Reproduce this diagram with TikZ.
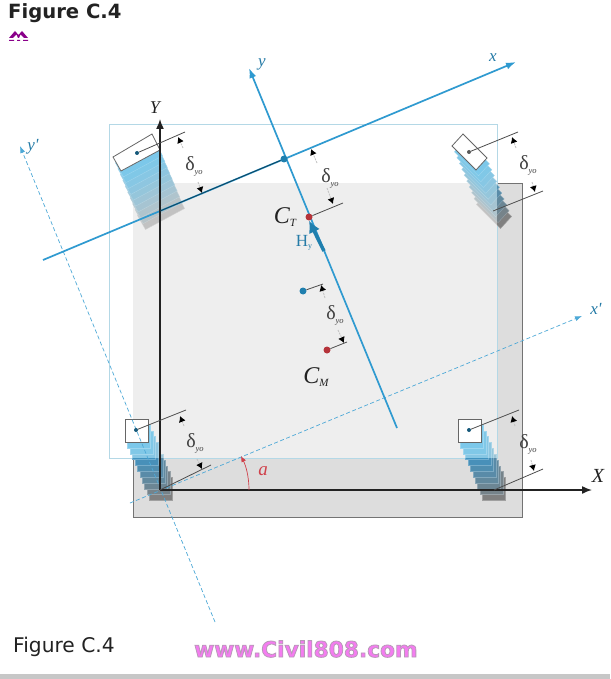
\documentclass[tikz,border=0pt]{standalone}
\usepackage{fontspec}
\setmainfont{Liberation Serif}
\newfontfamily\uifont{DejaVu Sans}
\usetikzlibrary{arrows.meta,calc}
\definecolor{axisblue}{HTML}{2F9AD0}
\definecolor{framebl}{HTML}{B4D8E6}
\definecolor{outergray}{HTML}{DDDDDD}
\definecolor{innergray}{HTML}{EEEEEE}
\definecolor{layerA}{HTML}{7CC8EA}
\definecolor{layerB}{HTML}{C2C2C2}
\definecolor{layerC}{HTML}{3596CC}
\definecolor{layerD}{HTML}{808080}
\definecolor{dimgray}{HTML}{C4C4C4}
\definecolor{redpt}{HTML}{B5333A}
\definecolor{bluept}{HTML}{1F7FAE}
\definecolor{anglered}{HTML}{D0404A}
\definecolor{ink}{HTML}{222222}
\definecolor{pinktxt}{HTML}{F47CF0}
\newcommand{\slabstack}[6]{%
  \foreach \i in {10,...,1}{%
    \pgfmathsetmacro{\p}{100*((\i-1)/9)^1.25}%
    \colorlet{layercur}{#6!\p!#5}%
    \filldraw[fill=layercur,draw=layercur!75!white,line width=.4pt,shift={({\i*2.45},{\i*5.85})}]
      (#1) -- (#2) -- (#3) -- (#4) -- cycle;
  }%
}
\newcommand{\dyo}{\fontsize{20}{20}\selectfont δ\raisebox{-4pt}{\fontsize{8.5}{8.5}\selectfont\itshape yo}}
\tikzset{
  outerplate/.style={fill=outergray,draw=black!55,line width=.8pt},
  innerplate/.style={fill=innergray},
  framerect/.style={draw=framebl,line width=.9pt},
  whiteslab/.style={fill=white,draw=black!60,line width=.8pt},
  mainaxis/.style={draw=ink,line width=1.5pt,-{Latex[length=10pt,width=8pt]}},
  blueaxis/.style={draw=axisblue,line width=1.7pt,-{Latex[length=10pt,width=7pt]}},
  dashaxis/.style={draw=axisblue!85,line width=.7pt,dash pattern=on 4pt off 2.5pt,-{Latex[length=7pt,width=5pt]}},
  leader/.style={draw=black!70,line width=.8pt},
  dimtip/.style={draw=dimgray,line width=.9pt,dash pattern=on 2pt off 1pt,-{Latex[length=6pt,width=7pt,black]}},
  pt/.style={circle,inner sep=0pt,minimum size=#1},
  lab/.style={inner sep=0pt,text=ink},
  dimlab/.style={inner sep=0pt,text=black!75},
}
\begin{document}
\begin{tikzpicture}[x=1pt,y=-1pt]
\useasboundingbox (0,0) rectangle (610,679);
\fill[white] (0,0) rectangle (610,679);
\fill[black!22] (0,674) rectangle (610,679);
% plates
\path[outerplate] (133,183) rectangle (522,517);
\path[innerplate] (133,183) rectangle (497,458);
\draw[framerect] (109,124) rectangle (497,458);
% slab stacks
\slabstack{121,171}{160,150}{152,134}{113,157}{layerA}{layerB}
\draw[whiteslab] (113,157) -- (152,134) -- (160,150) -- (121,171) -- cycle;
\slabstack{452,146}{463,134}{487,158}{476,170}{layerA}{layerB}
\begin{scope}
  \clip (497,124) rectangle (530,240);
  \slabstack{452,146}{463,134}{487,158}{476,170}{layerC}{layerD}
\end{scope}
\draw[whiteslab] (452,146) -- (463,134) -- (487,158) -- (476,170) -- cycle;
\slabstack{125,419}{148,419}{148,442}{125,442}{layerA}{layerB}
\begin{scope}
  \clip (120,458) rectangle (180,510);
  \slabstack{125,419}{148,419}{148,442}{125,442}{layerC}{layerD}
\end{scope}
\draw[whiteslab] (125,419) rectangle (148,442);
\slabstack{458,419}{481,419}{481,442}{458,442}{layerA}{layerB}
\begin{scope}
  \clip (450,458) rectangle (515,510);
  \slabstack{458,419}{481,419}{481,442}{458,442}{layerC}{layerD}
\end{scope}
\draw[whiteslab] (458,419) rectangle (481,442);
% named points
\coordinate (O) at (160,490);
\coordinate (Yend) at (160,119);
\coordinate (Xend) at (592,490);
\coordinate (xs) at (43,260);
\coordinate (xe) at (516,62);
\coordinate (ys) at (397,428);
\coordinate (ye) at (249,68);
\coordinate (dys) at (215,622);
\coordinate (dye) at (20,146);
\coordinate (dxs) at (130,503);
\coordinate (dxe) at (582,316);
\coordinate (tlBase) at (160,211);
\coordinate (brBase) at (494,490);
\coordinate (trBase) at (493,211);
% axes
\draw[dashaxis] (dys) -- (dye);
\draw[dashaxis] (dxs) -- (dxe);
\draw[blueaxis] (xs) -- (xe);
\draw[blueaxis] (ys) -- (ye);
\draw[mainaxis] (O) -- (Xend);
\draw[mainaxis] (O) -- (Yend);
% leader endpoints
\node[pt=4pt,fill=bluept!70!black] (tlDot) at (137,153) {};
\node[pt=4pt,fill=black!65] (trDot) at (469,152) {};
\node[pt=4pt,fill=bluept!70!black] (blDot) at (136,430) {};
\node[pt=4pt,fill=bluept!70!black] (brDot) at (469,430) {};
\node[pt=7pt,fill=bluept] (cDot) at (284,159) {};
\node[pt=7pt,fill=redpt] (ct) at (309,217) {};
\node[pt=7pt,fill=bluept] (cs) at (303,291) {};
\node[pt=7pt,fill=redpt] (cm) at (327,350) {};
\coordinate (tlEnd) at (185,132);
\coordinate (trEnd) at (518,132);
\coordinate (trEnd2) at (543,191);
\coordinate (blEnd) at (186,410);
\coordinate (blEnd2) at (211,465);
\coordinate (brEnd) at (519,410);
\coordinate (brEnd2) at (543,469);
\coordinate (ctEnd) at (343,203);
\coordinate (csEnd) at (323,284);
\coordinate (cmEnd) at (347,342);
\draw[leader] (tlDot) -- (tlEnd);
\draw[leader] (trDot) -- (trEnd);
\draw[leader] (trBase) -- (trEnd2);
\draw[leader] (blDot) -- (blEnd);
\draw[leader] (O) -- (blEnd2);
\draw[leader] (brDot) -- (brEnd);
\draw[leader] (brBase) -- (brEnd2);
\draw[leader] (ct) -- (ctEnd);
\draw[leader] (cs) -- (csEnd);
\draw[leader] (cm) -- (cmEnd);
\draw[draw=bluept!55!black,line width=.9pt] (tlBase) -- (cDot);
% dimension ticks
\foreach \a/\b in {183/148,198/182,516/148,532/182,184/426,197/459,515/426,531/460,317/163,327/188,325/298,338/330}{\coordinate (d\a) at (\a,\b);}
\coordinate (t1) at (178,137); \coordinate (t2) at (202,193);
\coordinate (t3) at (512,137); \coordinate (t4) at (535,192);
\coordinate (t5) at (180,416); \coordinate (t6) at (202,469);
\coordinate (t7) at (512,416); \coordinate (t8) at (534,471);
\coordinate (t9) at (311,149); \coordinate (t10) at (333,204);
\coordinate (t11) at (321,285); \coordinate (t12) at (344,343);
\draw[dimtip] (d183) -- (t1);
\draw[dimtip] (d198) -- (t2);
\draw[dimtip] (d516) -- (t3);
\draw[dimtip] (d532) -- (t4);
\draw[dimtip] (d184) -- (t5);
\draw[dimtip] (d197) -- (t6);
\draw[dimtip] (d515) -- (t7);
\draw[dimtip] (d531) -- (t8);
\draw[dimtip] (d317) -- (t9);
\draw[dimtip] (d327) -- (t10);
\draw[dimtip] (d325) -- (t11);
\draw[dimtip] (d338) -- (t12);
% thrust arrow
\coordinate (hyTail) at (324,251);
\draw[draw=bluept,line width=3.5pt,-{Latex[length=12pt,width=12pt]}] (hyTail) -- (ct.south);
% angle
\coordinate (angS) at (249,490);
\coordinate (angE) at (241,456);
\draw[anglered,line width=.7pt,-{Latex[length=6pt,width=5pt]}] (angS) .. controls (249,477) and (246,466) .. (angE);
% labels
\node[dimlab] (d1) at (194,166) {\dyo};
\node[dimlab] (d2) at (528,165) {\dyo};
\node[dimlab] (d3) at (195,443) {\dyo};
\node[dimlab] (d4) at (528,444) {\dyo};
\node[dimlab] (d5) at (330,178) {\dyo};
\node[dimlab] (d6) at (335,315) {\dyo};
\node[lab,font=\fontsize{18}{18}\selectfont\itshape] (lY) at (155,108) {Y};
\node[lab,font=\fontsize{20}{20}\selectfont\itshape] (lX) at (598,476) {X};
\node[lab,text=axisblue!80!black,font=\fontsize{17}{17}\selectfont\itshape] (lx) at (493,58) {x};
\node[lab,text=axisblue!80!black,font=\fontsize{17}{17}\selectfont\itshape] (ly) at (262,64) {y};
\node[lab,text=axisblue!80!black,font=\fontsize{17}{17}\selectfont\itshape] (lyp) at (33,147) {y\textquotesingle};
\node[lab,text=axisblue!80!black,font=\fontsize{17}{17}\selectfont\itshape] (lxp) at (596,309) {x\textquotesingle};
\node[lab,text=anglered,font=\fontsize{19}{19}\selectfont\itshape] (la) at (263,471) {a};
\node[lab,font=\fontsize{24}{24}\selectfont\itshape] (lct) at (285,217) {C\raisebox{-3pt}{\fontsize{11}{11}\selectfont T}};
\node[lab,font=\fontsize{24}{24}\selectfont\itshape] (lcm) at (316,377) {C\raisebox{-3pt}{\fontsize{11}{11}\selectfont M}};
\node[lab,text=axisblue!80!black,font=\fontsize{17}{17}\selectfont] (lhy) at (304,243) {H\raisebox{-2pt}{\fontsize{8}{8}\selectfont y}};
% page text
\node[anchor=west,inner sep=0pt,text=ink,font=\uifont\bfseries\fontsize{19.6}{19.6}\selectfont] (title) at (8,13) {Figure C.4};
\node[anchor=west,inner sep=0pt,text=ink,font=\uifont\fontsize{20.2}{20.2}\selectfont] (cap) at (13,647) {Figure C.4};
\node[anchor=west,inner sep=0pt,text=pinktxt,font=\uifont\bfseries\fontsize{21.7}{21.7}\selectfont] (wm) at (194,649) {\special{pdf:code 2 Tr 0.8 w 0.72 0.6 0.72 RG}www.Civil808.com\special{pdf:code 0 Tr}};
% icon
\fill[violet!80!magenta!90!black] (9,38) -- (15,31) -- (18.5,35) -- (22,31) -- (28,38) -- (24,38) -- (20.5,34.5) -- (19,38) -- (18,38) -- (16.5,34.5) -- (13,38) -- cycle;
\fill[violet!80!magenta!90!black] (9,40) rectangle (14,41) (17,40) rectangle (20,41) (23,40) rectangle (28,41);
\end{tikzpicture}
\end{document}
